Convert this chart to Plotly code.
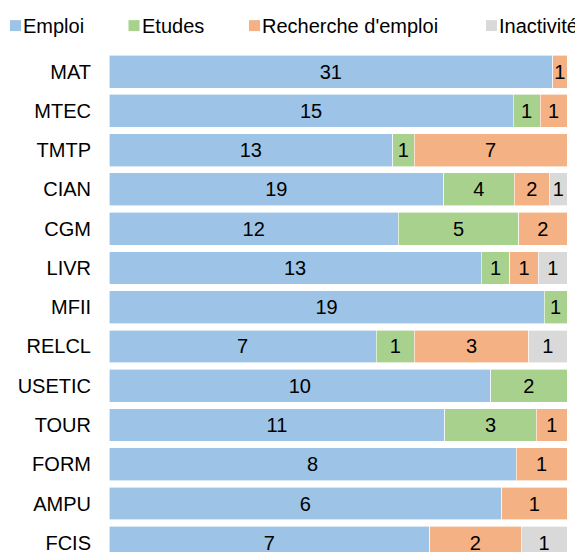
import plotly.graph_objects as go

categories = ["MAT", "MTEC", "TMTP", "CIAN", "CGM", "LIVR", "MFII", "RELCL",
              "USETIC", "TOUR", "FORM", "AMPU", "FCIS"]
emploi = [31, 15, 13, 19, 12, 13, 19, 7, 10, 11, 8, 6, 7]
etudes = [0, 1, 1, 4, 5, 1, 1, 1, 2, 3, 0, 0, 0]
recherche = [1, 1, 7, 2, 2, 1, 0, 3, 0, 1, 1, 1, 2]
inactivite = [0, 0, 0, 1, 0, 1, 0, 1, 0, 0, 0, 0, 1]

series_names = ["Emploi", "Etudes", "Recherche d'emploi", "Inactivité"]
series_values = [emploi, etudes, recherche, inactivite]
colors = ["#9DC3E6", "#A9D18E", "#F4B183", "#D9D9D9"]

# the page body adds an 8px offset; size the figure to the visible area
OFF = 8
W, H = 583 - OFF, 554 - OFF
L, R, T, B = 109 - OFF, 16, 52 - OFF, 0
pw, ph = W - L - R, H - T - B

fig = go.Figure()
for name, vals, col in zip(series_names, series_values, colors):
    fig.add_trace(go.Bar(
        y=categories,
        x=[v if v else None for v in vals],
        orientation="h",
        name=name,
        marker=dict(color=col, line=dict(color="white", width=0.6)),
        text=[str(v) if v else "" for v in vals],
        textposition="inside",
        insidetextanchor="middle",
        textfont=dict(color="black", size=20, family="Liberation Sans, Arial, sans-serif"),
        showlegend=False,
        hoverinfo="skip",
    ))

# custom legend (square marker + label) at reference pixel positions
def px_x(px):
    return (px - OFF - L) / pw

def px_y(py):
    return (H - B - (py - OFF)) / ph

legend_marker_x = [10, 128.5, 249, 486]
shapes = []
annotations = []
for name, col, mx in zip(series_names, colors, legend_marker_x):
    shapes.append(dict(type="rect", xref="paper", yref="paper",
                       x0=px_x(mx), x1=px_x(mx + 11), y0=px_y(31), y1=px_y(20),
                       fillcolor=col, line=dict(width=0)))
    annotations.append(dict(xref="paper", yref="paper", x=px_x(mx + 12), y=px_y(25.5),
                            xanchor="left", yanchor="middle", showarrow=False,
                            text=name, font=dict(size=20, color="black"),
                            borderpad=0))

fig.update_layout(
    width=W, height=H,
    margin=dict(l=L, r=R, t=T, b=B, pad=0),
    barmode="stack",
    barnorm="percent",
    bargap=0.163,
    plot_bgcolor="white",
    paper_bgcolor="white",
    font=dict(family="Liberation Sans, Arial, sans-serif", size=20, color="black"),
    uniformtext=dict(minsize=20, mode="show"),
    shapes=shapes,
    annotations=annotations,
    showlegend=False,
    xaxis=dict(range=[0, 100], visible=False, showgrid=False, zeroline=False, fixedrange=True),
    yaxis=dict(type="category", categoryorder="array", categoryarray=categories,
               range=[12.234, -0.5], showgrid=False, zeroline=False, showline=False,
               ticks="", ticklabelstandoff=17,
               tickfont=dict(size=20, color="black")),
)

fig.write_html("out.html")
